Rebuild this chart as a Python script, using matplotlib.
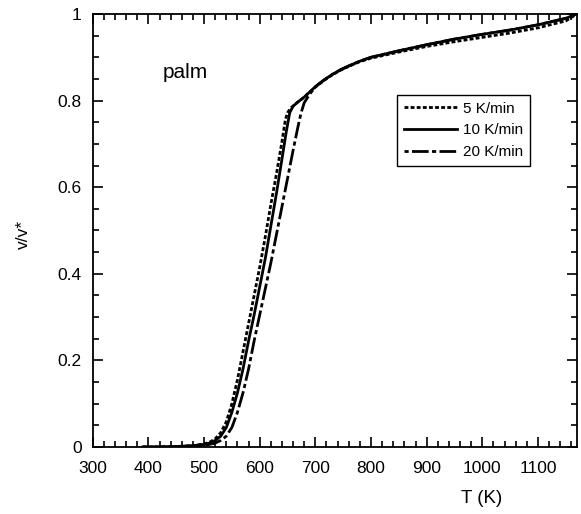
import matplotlib
matplotlib.use("Agg")
import matplotlib.pyplot as plt
from matplotlib.ticker import MultipleLocator

plt.rcParams['font.family'] = ['Liberation Sans', 'DejaVu Sans']

# 5 K/min (dotted)
T5 = [390, 420, 450, 480, 500, 510, 520, 530, 540, 550, 560, 570, 580, 590, 600, 610, 620, 630, 640, 646,
      650, 656, 664, 672, 680, 690, 700, 715, 730, 745, 760, 780, 800, 850, 900, 950, 1000, 1050, 1100, 1150, 1170]
v5 = [0.0, 0.0, 0.001, 0.003, 0.007, 0.011, 0.019, 0.033, 0.058, 0.10, 0.155, 0.22, 0.285, 0.35, 0.415, 0.485,
      0.56, 0.63, 0.705, 0.755, 0.772, 0.783, 0.792, 0.80, 0.808, 0.82, 0.831, 0.846, 0.859, 0.87, 0.879, 0.89,
      0.898, 0.912, 0.925, 0.936, 0.946, 0.956, 0.968, 0.984, 1.0]

# 10 K/min (solid)
T10 = [390, 420, 450, 480, 500, 510, 520, 530, 540, 550, 560, 570, 580, 590, 600, 610, 620, 630, 640, 648,
       654, 660, 668, 680, 690, 700, 715, 730, 745, 760, 780, 800, 850, 900, 950, 1000, 1050, 1100, 1150, 1170]
v10 = [0.0, 0.0, 0.001, 0.003, 0.006, 0.009, 0.015, 0.025, 0.045, 0.08, 0.125, 0.18, 0.245, 0.305, 0.37, 0.435,
       0.51, 0.585, 0.665, 0.73, 0.772, 0.787, 0.796, 0.808, 0.82, 0.832, 0.847, 0.86, 0.871, 0.88, 0.891,
       0.9, 0.915, 0.929, 0.942, 0.953, 0.963, 0.975, 0.99, 1.0]

# 20 K/min (dash-dot)
T20 = [390, 420, 450, 480, 500, 510, 520, 530, 540, 550, 560, 570, 580, 590, 600, 610, 620, 630, 640, 650,
       660, 668, 674, 680, 690, 700, 715, 730, 745, 760, 780, 800, 850, 900, 950, 1000, 1050, 1100, 1150, 1170]
v20 = [0.0, 0.0, 0.001, 0.002, 0.004, 0.006, 0.009, 0.015, 0.025, 0.045, 0.08, 0.125, 0.18, 0.245, 0.305,
       0.365, 0.425, 0.49, 0.555, 0.62, 0.685, 0.735, 0.77, 0.795, 0.815, 0.832, 0.847, 0.86, 0.871, 0.88,
       0.891, 0.9, 0.915, 0.929, 0.942, 0.953, 0.963, 0.975, 0.99, 1.0]

labels = ["5 K/min", "10 K/min", "20 K/min"]

fig = plt.figure(figsize=(5.81, 5.14), dpi=100)
ax = fig.add_axes([0.1596, 0.1304, 0.8334, 0.8424])

ax.plot(T5, v5, color='black', lw=2.0, dashes=(1.4, 0.8), label=labels[0])
ax.plot(T10, v10, color='black', lw=2.0, label=labels[1])
ax.plot(T20, v20, color='black', lw=2.0, dashes=(1.5, 1.2, 6, 1.2), label=labels[2])

ax.set_xlim(300, 1170)
ax.set_ylim(0, 1)
ax.xaxis.set_major_locator(MultipleLocator(100))
ax.xaxis.set_minor_locator(MultipleLocator(20))
ax.yaxis.set_minor_locator(MultipleLocator(0.05))
ax.set_yticks([0, 0.2, 0.4, 0.6, 0.8, 1.0])
ax.set_yticklabels(['0', '0.2', '0.4', '0.6', '0.8', '1'])

ax.tick_params(which='both', direction='in', top=True, right=True, width=1.2, colors='black')
ax.tick_params(which='major', length=7, labelsize=12.5)
ax.tick_params(axis='x', which='major', pad=10)
ax.tick_params(axis='y', which='major', pad=8)
ax.tick_params(which='minor', length=4.5)
for s in ax.spines.values():
    s.set_linewidth(1.3)

ax.set_xlabel('T (K)', fontsize=13.5, va='center')
ax.xaxis.set_label_coords(0.804, -0.118)
ax.set_ylabel('v/v*', fontsize=12.5, va='center')
ax.yaxis.set_label_coords(-0.144, 0.49)

ax.text(0.145, 0.865, 'palm', transform=ax.transAxes, fontsize=15, ha='left', va='center')

leg = ax.legend(loc='upper left', bbox_to_anchor=(0.628, 0.813), fontsize=11,
                frameon=True, fancybox=False, framealpha=1, edgecolor='black',
                handlelength=3.5, handletextpad=0.4, borderpad=0.45, labelspacing=0.5,
                borderaxespad=0)
leg.get_frame().set_linewidth(1.0)

fig.savefig('out.png', dpi=100)
